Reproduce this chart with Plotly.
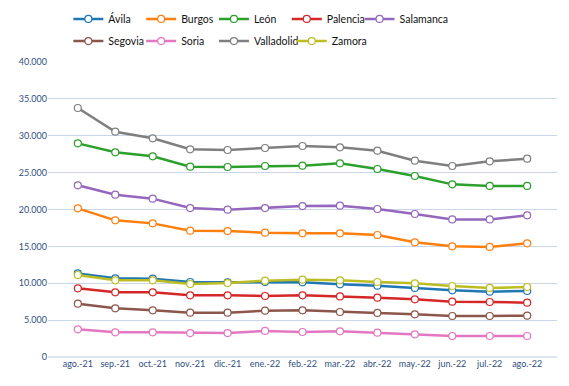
import plotly.graph_objects as go

months = ["ago.-21", "sep.-21", "oct.-21", "nov.-21", "dic.-21", "ene.-22", "feb.-22",
          "mar.-22", "abr.-22", "may.-22", "jun.-22", "jul.-22", "ago.-22"]

avila = [11340, 10670, 10620, 10170, 10120, 10170, 10120, 9850, 9670, 9360, 9040, 8860, 8950]
burgos = [20160, 18530, 18120, 17130, 17080, 16860, 16770, 16770, 16540, 15550, 15010, 14920, 15410]
leon = [28970, 27750, 27210, 25810, 25760, 25900, 25940, 26260, 25490, 24540, 23410, 23190, 23190]
palencia = [9310, 8770, 8770, 8360, 8360, 8270, 8360, 8220, 8040, 7820, 7500, 7460, 7370]
salamanca = [23280, 22010, 21470, 20200, 19980, 20200, 20470, 20520, 20070, 19390, 18660, 18660, 19210]
segovia = [7230, 6600, 6330, 6010, 6010, 6280, 6330, 6100, 5970, 5790, 5560, 5560, 5600]
soria = [3750, 3350, 3350, 3250, 3250, 3530, 3390, 3480, 3300, 3080, 2850, 2850, 2850]
valladolid = [33760, 30550, 29650, 28160, 28070, 28340, 28610, 28430, 27970, 26620, 25900, 26530, 26890]
zamora = [11120, 10400, 10400, 9900, 10030, 10350, 10490, 10400, 10170, 9990, 9630, 9360, 9490]

series = [
    ("Ávila", avila, "#1f77b4"),
    ("Burgos", burgos, "#ff7f0e"),
    ("León", leon, "#2ca02c"),
    ("Palencia", palencia, "#d62728"),
    ("Salamanca", salamanca, "#9467bd"),
    ("Segovia", segovia, "#8c564b"),
    ("Soria", soria, "#e377c2"),
    ("Valladolid", valladolid, "#7f7f7f"),
    ("Zamora", zamora, "#bcbd22"),
]

fig = go.Figure()
legends = {}
for i, (name, vals, color) in enumerate(series):
    key = "legend" if i == 0 else f"legend{i + 1}"
    col, row = i % 5, i // 5
    extra = 5 if (row == 1 and col == 3) else 0
    legends[key] = dict(
        orientation="h", xanchor="left", yanchor="middle",
        x=0.04 + (col * 72.8 + extra) / 509, y=1.146 if row == 0 else 1.071,
        itemwidth=30, font=dict(size=10.5, color="#111111"),
        bgcolor="rgba(0,0,0,0)",
    )
    fig.add_trace(go.Scatter(
        x=months, y=vals, name=name, mode="lines+markers", legend=key,
        showlegend=True,
        line=dict(color=color, width=2.5),
        marker=dict(symbol="circle", size=7, color="white",
                    line=dict(color=color, width=1.2)),
    ))

tick_color = "#2f4f7f"
fig.update_layout(
    width=561, height=378,
    showlegend=True,
    margin=dict(l=40, r=12, t=54, b=29, autoexpand=False),
    plot_bgcolor="white", paper_bgcolor="white",
    separators=",.",
    font=dict(family="Lato, sans-serif", size=10, color="#222222"),
    xaxis=dict(type="category", showgrid=False, showline=False, ticks="",
               tickfont=dict(size=9, color=tick_color), zeroline=False),
    yaxis=dict(range=[0, 40000], dtick=5000, tickformat=",d", showgrid=True,
               gridcolor="#c9d6ea", gridwidth=1, zeroline=True, zerolinecolor="#dde4ef",
               zerolinewidth=1.5, ticks="", tickfont=dict(size=9, color=tick_color)),
    **legends,
)

fig.write_html("out.html")
